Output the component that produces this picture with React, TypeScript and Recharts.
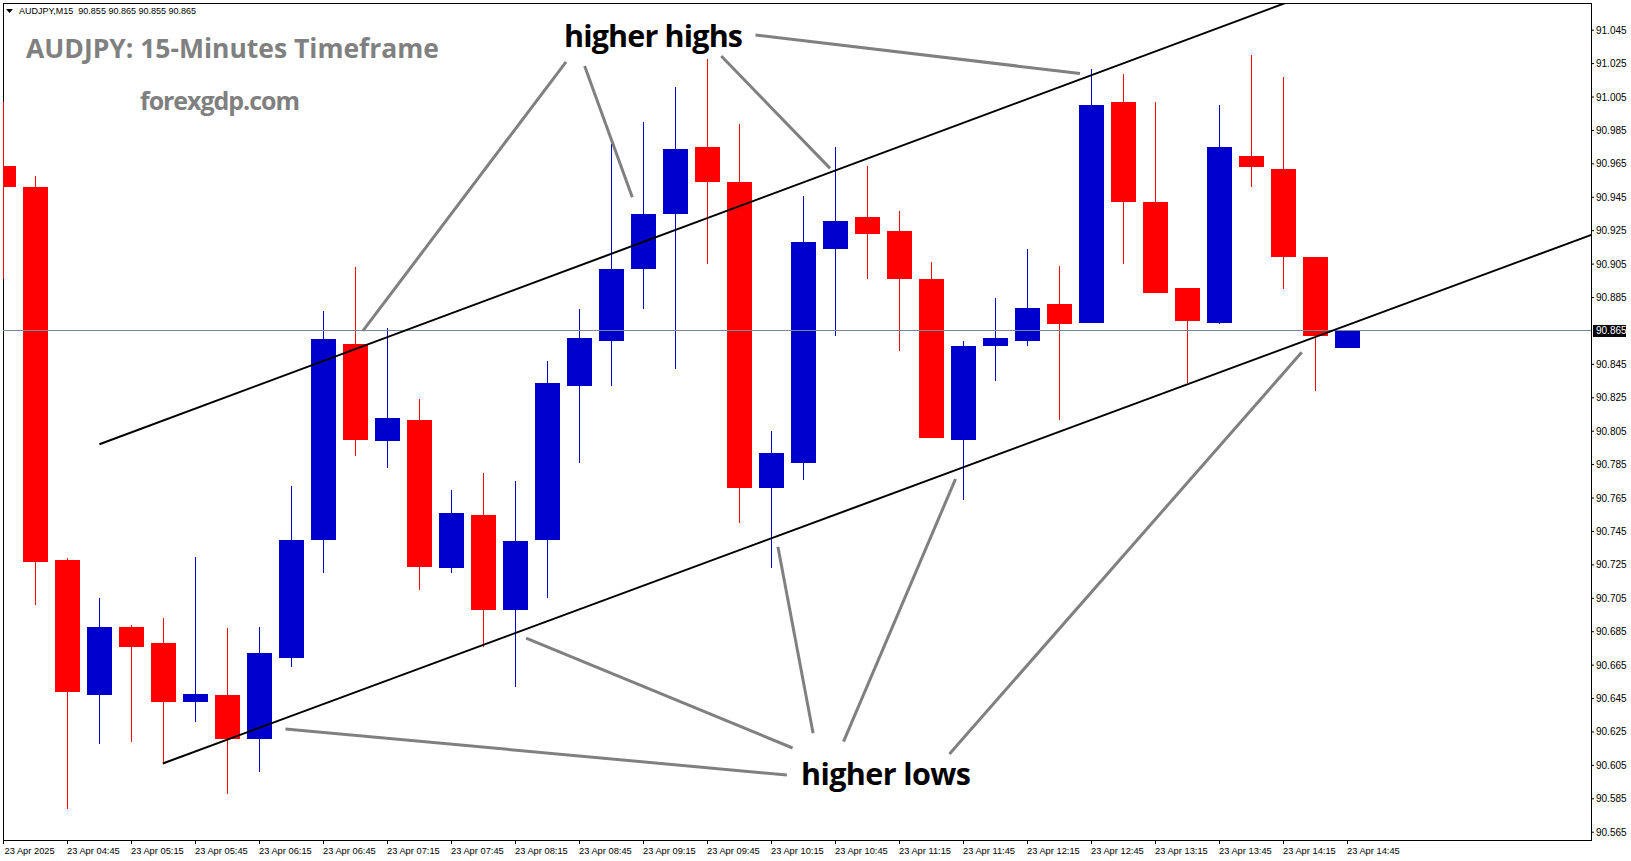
import React from "react";
import { ComposedChart, Bar, XAxis, YAxis, ReferenceLine, ReferenceArea } from "recharts";

const symbol = "AUDJPY";
const timeframe = "M15";

const times = [
  "04:15", "04:30", "04:45", "05:00", "05:15", "05:30", "05:45", "06:00", "06:15", "06:30",
  "06:45", "07:00", "07:15", "07:30", "07:45", "08:00", "08:15", "08:30", "08:45", "09:00",
  "09:15", "09:30", "09:45", "10:00", "10:15", "10:30", "10:45", "11:00", "11:15", "11:30",
  "11:45", "12:00", "12:15", "12:30", "12:45", "13:00", "13:15", "13:30", "13:45", "14:00",
  "14:15", "14:30", "14:45",
];

const opens = [
  90.964, 90.951, 90.728, 90.647, 90.688, 90.678, 90.643, 90.647, 90.621, 90.669,
  90.740, 90.857, 90.799, 90.812, 90.723, 90.755, 90.698, 90.740, 90.832, 90.859,
  90.902, 90.935, 90.975, 90.954, 90.771, 90.786, 90.914, 90.933, 90.925, 90.896,
  90.800, 90.856, 90.859, 90.881, 90.870, 91.002, 90.942, 90.891, 90.870, 90.970,
  90.962, 90.909, 90.855,
];
const highs = [
  91.002, 90.958, 90.729, 90.705, 90.689, 90.693, 90.730, 90.687, 90.688, 90.772,
  90.877, 90.903, 90.867, 90.824, 90.770, 90.780, 90.775, 90.847, 90.878, 90.977,
  90.990, 91.011, 91.028, 90.989, 90.805, 90.946, 90.975, 90.964, 90.937, 90.906,
  90.859, 90.885, 90.914, 90.904, 91.022, 91.019, 91.002, 90.891, 91.000, 91.030,
  91.017, 90.909, 90.865,
];
const lows = [
  90.896, 90.701, 90.579, 90.618, 90.619, 90.606, 90.631, 90.588, 90.601, 90.664,
  90.720, 90.790, 90.783, 90.710, 90.720, 90.676, 90.652, 90.705, 90.786, 90.832,
  90.878, 90.842, 90.905, 90.750, 90.723, 90.776, 90.862, 90.896, 90.853, 90.801,
  90.764, 90.835, 90.856, 90.812, 90.870, 90.905, 90.888, 90.834, 90.869, 90.951,
  90.890, 90.829, 90.855,
];
const closes = [
  90.951, 90.727, 90.649, 90.688, 90.676, 90.643, 90.648, 90.621, 90.672, 90.740,
  90.860, 90.800, 90.813, 90.724, 90.756, 90.698, 90.739, 90.834, 90.861, 90.902,
  90.935, 90.974, 90.954, 90.771, 90.792, 90.918, 90.931, 90.923, 90.896, 90.801,
  90.856, 90.861, 90.879, 90.869, 91.000, 90.942, 90.888, 90.871, 90.975, 90.963,
  90.909, 90.862, 90.865,
];

const xTickLabels = [
  "23 Apr 2025", "23 Apr 04:45", "23 Apr 05:15", "23 Apr 05:45", "23 Apr 06:15", "23 Apr 06:45",
  "23 Apr 07:15", "23 Apr 07:45", "23 Apr 08:15", "23 Apr 08:45", "23 Apr 09:15", "23 Apr 09:45",
  "23 Apr 10:15", "23 Apr 10:45", "23 Apr 11:15", "23 Apr 11:45", "23 Apr 12:15", "23 Apr 12:45",
  "23 Apr 13:15", "23 Apr 13:45", "23 Apr 14:15", "23 Apr 14:45",
];
const xTickIndexes = [0, 2, 4, 6, 8, 10, 12, 14, 16, 18, 20, 22, 24, 26, 28, 30, 32, 34, 36, 38, 40, 42];

const priceTicks = [
  91.045, 91.025, 91.005, 90.985, 90.965, 90.945, 90.925, 90.905, 90.885, 90.865, 90.845, 90.825,
  90.805, 90.785, 90.765, 90.745, 90.725, 90.705, 90.685, 90.665, 90.645, 90.625, 90.605, 90.585, 90.565,
];
const currentPrice = 90.865;

// channel lines (index, price)
const upperChannel = [
  { x: 2.997, y: 90.7972 },
  { x: 41.0, y: 91.0680 },
];
const lowerChannel = [
  { x: 4.978, y: 90.6061 },
  { x: 50.0, y: 90.9252 },
];
// annotation pointer lines (from label to touch point)
const higherHighLinks = [
  [{ x: 17.58, y: 91.0261 }, { x: 11.23, y: 90.8650 }],
  [{ x: 18.16, y: 91.0236 }, { x: 19.65, y: 90.9450 }],
  [{ x: 22.43, y: 91.0296 }, { x: 25.83, y: 90.9623 }],
  [{ x: 23.50, y: 91.0421 }, { x: 33.64, y: 91.0191 }],
];
const higherLowLinks = [
  [{ x: 8.81, y: 90.6268 }, { x: 24.48, y: 90.5992 }],
  [{ x: 16.33, y: 90.6812 }, { x: 24.66, y: 90.6154 }],
  [{ x: 24.20, y: 90.7359 }, { x: 25.30, y: 90.6242 }],
  [{ x: 29.75, y: 90.7764 }, { x: 26.25, y: 90.6192 }],
  [{ x: 40.57, y: 90.8522 }, { x: 29.56, y: 90.6118 }],
];

const X_MIN = -0.015625;
const X_MAX = 49.609;
const Y_MIN = 90.56034;
const Y_MAX = 91.06128;

const BULL = "#0000CD";
const BEAR = "#FF0000";
const AXIS_FONT = "'Liberation Sans', Arial, sans-serif";

const candles = opens.map((o, i) => ({
  i,
  time: times[i],
  o,
  h: highs[i],
  l: lows[i],
  c: closes[i],
  range: [lows[i], highs[i]],
}));

const Candle = (props: any) => {
  const { x, y, width, height, payload } = props;
  if (x == null || y == null || !payload) return null;
  const { o, h, l, c } = payload;
  const top = Math.min(y, y + height);
  const hh = Math.abs(height);
  const ppu = h - l > 0 ? hh / (h - l) : 0;
  const yOf = (v: number) => top + (h - v) * ppu;
  const color = c >= o ? BULL : BEAR;
  const cx = Math.floor(x + width / 2 + 0.01);
  const bTop = yOf(Math.max(o, c));
  const bBot = yOf(Math.min(o, c));
  return (
    <g>
      <rect x={cx} y={top} width={1} height={Math.max(hh, 1)} fill={color} shapeRendering="crispEdges" />
      <rect x={cx - 12} y={bTop} width={25} height={Math.max(bBot - bTop, 1)} fill={color} shapeRendering="crispEdges" />
    </g>
  );
};

const XTick = (props: any) => {
  const { x, y, payload } = props;
  const idx = xTickIndexes.indexOf(payload.value);
  if (idx < 0) return null;
  return (
    <text x={Math.max(x - 0.5, 4.5)} y={y + 7.5} fontSize={9.3} fontFamily={AXIS_FONT} fill="#000" textAnchor="start">
      {xTickLabels[idx]}
    </text>
  );
};

const YTick = (props: any) => {
  const { x, y, payload } = props;
  return (
    <text x={x} y={y + 3.5} fontSize={10} fontFamily={AXIS_FONT} fill="#000" textAnchor="start">
      {Number(payload.value).toFixed(3)}
    </text>
  );
};

const PriceTag = (props: any) => {
  const vb = props.viewBox || {};
  const x = vb.x + vb.width + 2;
  const y = vb.y;
  return (
    <g>
      <rect x={x} y={y - 6} width={33} height={12} fill="#000" />
      <text x={x + 3} y={y + 3.5} fontSize={10} fontFamily={AXIS_FONT} fill="#fff">
        {currentPrice.toFixed(3)}
      </text>
    </g>
  );
};

const last = candles[candles.length - 1];
const headerText = `${symbol},${timeframe}  ${last.o.toFixed(3)} ${last.h.toFixed(3)} ${last.l.toFixed(3)} ${last.c.toFixed(3)}`;

export default function App() {
  return (
    <div style={{ position: "absolute", left: 0, top: 0, width: 1631, height: 861, background: "#fff", overflow: "hidden" }}>
      <ComposedChart
        width={1631}
        height={861}
        data={candles}
        margin={{ top: 3, right: 0, bottom: 0, left: 3 }}
      >
        <XAxis
          dataKey="i"
          type="number"
          domain={[X_MIN, X_MAX]}
          allowDataOverflow
          ticks={xTickIndexes}
          interval={0}
          tick={<XTick />}
          tickSize={4}
          tickLine={{ stroke: "#000" }}
          axisLine={false}
          height={21}
        />
        <YAxis
          orientation="right"
          type="number"
          domain={[Y_MIN, Y_MAX]}
          allowDataOverflow
          ticks={priceTicks.filter((t) => t !== currentPrice)}
          interval={0}
          tick={<YTick />}
          tickSize={3}
          tickLine={{ stroke: "#000" }}
          axisLine={false}
          width={40}
        />
        <ReferenceLine
          y={currentPrice}
          stroke="#778899"
          strokeWidth={1}
          shapeRendering="crispEdges"
          label={<PriceTag />}
        />
        <Bar dataKey="range" barSize={26} shape={<Candle />} isAnimationActive={false} />
        <ReferenceLine segment={upperChannel} stroke="#000" strokeWidth={2} ifOverflow="hidden" />
        <ReferenceLine segment={lowerChannel} stroke="#000" strokeWidth={2} ifOverflow="hidden" />
        {higherHighLinks.map((seg, k) => (
          <ReferenceLine key={"hh" + k} segment={seg} stroke="#808080" strokeWidth={3} ifOverflow="hidden" />
        ))}
        {higherLowLinks.map((seg, k) => (
          <ReferenceLine key={"hl" + k} segment={seg} stroke="#808080" strokeWidth={3} ifOverflow="hidden" />
        ))}
        <ReferenceArea
          x1={X_MIN}
          x2={X_MAX}
          y1={Y_MIN}
          y2={Y_MAX}
          fill="none"
          fillOpacity={0}
          stroke="#000"
          strokeWidth={1}
          ifOverflow="visible"
          shapeRendering="crispEdges"
        />
      </ComposedChart>
      <svg
        width={1631}
        height={861}
        style={{ position: "absolute", left: 0, top: 0, pointerEvents: "none" }}
      >
        <polygon points="6,9 13,9 9.5,13" fill="#000" />
        <text x={19} y={14} fontSize={9} fontFamily={AXIS_FONT} fill="#000" style={{ whiteSpace: "pre" }}>
          {headerText}
        </text>
        <text x={26} y={58} fontSize={26.5} fontWeight={700} fontFamily="'Open Sans', sans-serif" fill="#808080" textLength={413}>
          AUDJPY: 15-Minutes Timeframe
        </text>
        <text x={140} y={110} fontSize={25} fontWeight={700} fontFamily="'Open Sans', sans-serif" fill="#808080" textLength={160}>
          forexgdp.com
        </text>
        <text x={564} y={47} fontSize={30.5} fontWeight={700} fontFamily="'Open Sans', sans-serif" fill="#000" textLength={179}>
          higher highs
        </text>
        <text x={801} y={785} fontSize={30.5} fontWeight={700} fontFamily="'Open Sans', sans-serif" fill="#000" textLength={170}>
          higher lows
        </text>
      </svg>
    </div>
  );
}
